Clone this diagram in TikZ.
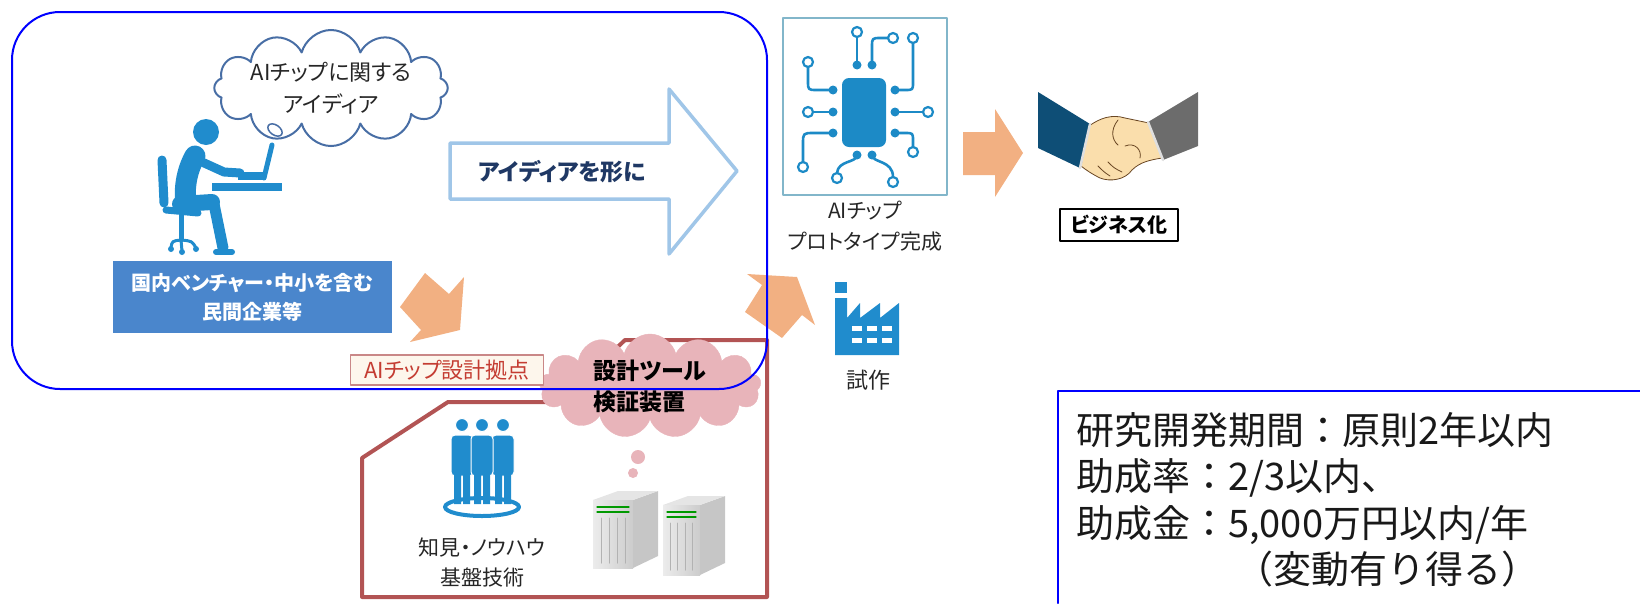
\documentclass[tikz,border=0pt]{standalone}
\usepackage{fontspec}
\usetikzlibrary{shapes.symbols}
\newfontfamily\jp[RawFeature=+palt]{Noto Sans CJK JP}
\newfontfamily\jpw{Noto Sans CJK JP}
\definecolor{frameblue}{RGB}{0,0,255}
\definecolor{iconblue}{RGB}{32,140,205}
\definecolor{cloudline}{RGB}{72,110,165}
\definecolor{labelblue}{RGB}{74,134,204}
\definecolor{hollowblue}{RGB}{160,198,232}
\definecolor{navytext}{RGB}{31,56,100}
\definecolor{arrorange}{RGB}{242,176,130}
\definecolor{basered}{RGB}{178,84,84}
\definecolor{tagred}{RGB}{196,60,50}
\definecolor{tagfill}{RGB}{253,246,236}
\definecolor{pinkcloud}{RGB}{232,180,186}
\definecolor{chipframe}{RGB}{130,182,202}
\definecolor{chipblue}{RGB}{28,138,198}
\definecolor{sleevenavy}{RGB}{14,78,118}
\definecolor{sleevegray}{RGB}{108,108,108}
\definecolor{skin}{RGB}{250,222,172}
\begin{document}
\begin{tikzpicture}[x=1pt, y=-1pt, line join=round, line cap=round,
  lbl/.style n args={2}{font=\jp\fontsize{#1}{#2}\selectfont, text=black!85, align=center, inner sep=0pt},
  orangearrow/.style={fill=arrorange, draw=none}]
\useasboundingbox (0,0) rectangle (1640,603);

% base: red outline, pink cloud and bubbles
\draw[basered, line width=4pt] (362,597) -- (362,458) -- (448,402) -- (560,402) -- (625,340) -- (767,340) -- (767,597) -- cycle;
\node[cloud, cloud puffs=13, cloud ignores aspect, fill=pinkcloud, draw=pinkcloud,
  minimum width=222, minimum height=104, lbl={23}{31}, text=black, font=\jp\bfseries\fontsize{23}{31}\selectfont, align=left] (tools) at (650,386) {設計ツール\\検証装置};
\fill[pinkcloud] (638,457) circle (7) (633,473) circle (5);

% people
\draw[iconblue, line width=4pt] (482,507) ellipse (37 and 9);
\foreach \px in {462,503,482}{
  \fill[iconblue, draw=white, line width=1pt] (\px,425) circle (6.5);
  \fill[iconblue, draw=white, line width=1pt, rounded corners=4pt] (\px-11,435) rectangle (\px+11,476);
  \fill[iconblue] (\px-8,470) rectangle (\px-1,504) (\px+1,470) rectangle (\px+8,504);
}
\node[lbl={21}{30}] (know) at (482,563) {知見・ノウハウ\\基盤技術};

% servers
\foreach \sx/\sy/\sw/\sh in {593/500/40/68, 663/505/37/70}{
  \fill[gray!45] (\sx+\sw,\sy) -- (\sx+\sw+25,\sy-9) -- (\sx+\sw+25,\sy+\sh-12) -- (\sx+\sw,\sy+\sh) -- cycle;
  \fill[gray!20] (\sx,\sy) -- (\sx+\sw,\sy) -- (\sx+\sw+25,\sy-9) -- (\sx+25,\sy-9) -- cycle;
  \shade[left color=gray!15, right color=gray!40] (\sx,\sy) rectangle (\sx+\sw,\sy+\sh);
  \draw[green!60!black, line width=1.2pt] (\sx+4,\sy+7) -- (\sx+\sw-4,\sy+7) (\sx+4,\sy+12) -- (\sx+\sw-4,\sy+12);
  \foreach \k in {1,...,4}
    \draw[gray!60, line width=1pt] (\sx+\k*\sw/5,\sy+18) -- (\sx+\k*\sw/5,\sy+\sh-5);
}

% orange arrows
\fill[orangearrow] (425,273) -- (449,294) -- (464,277) -- (460,330) -- (410,342) -- (421,330) -- (400,307) -- cycle;
\fill[orangearrow] (745,312) -- (762,285) -- (747,274) -- (797,277) -- (815,325) -- (802,315) -- (782,338) -- cycle;
\fill[orangearrow] (963,132) -- (995,132) -- (995,109) -- (1023,153) -- (995,197) -- (995,175) -- (963,175) -- cycle;

\node[draw=basered!70, fill=tagfill, line width=1.5pt, lbl={22}{26}, text=tagred, minimum width=193, minimum height=30] (hub) at (447,370) {AIチップ設計拠点};

% person at the desk
\begin{scope}[iconblue]
  \fill (206,132) circle (13);
  \draw[line width=21pt] (195,156) .. controls (186,172) and (184,190) .. (186,204);
  \draw[line width=9pt] (202,162) -- (224,172) -- (240,173);
  \draw[line width=5pt] (264,178) -- (272,145);
  \fill (238,172) rectangle (266,180);
  \fill (212,183) rectangle (282,191);
  \draw[line width=16pt] (180,204) -- (212,202);
  \draw[line width=11pt] (214,204) -- (223,248);
  \draw[line width=6pt] (216,252) -- (232,252);
  \draw[line width=9pt] (162,160) -- (164,203);
  \draw[line width=7pt] (166,210) -- (198,213);
  \draw[line width=5pt] (181,214) -- (181,240);
  \draw[line width=3pt] (181,240) .. controls (172,241) .. (171,248) (181,240) -- (182,251) (181,240) .. controls (192,241) .. (196,248);
  \fill (171,249) circle (3) (182,252) circle (3) (196,249) circle (3);
\end{scope}

% thought cloud
\node[cloud, cloud puffs=12, cloud ignores aspect, draw=cloudline, line width=2pt, fill=white,
  minimum width=228, minimum height=100, lbl={22}{32}] (idea) at (331,88) {AIチップに関する\\アイディア};
\draw[cloudline, line width=1.5pt, fill=white, rotate around={-35:(275,130)}] (275,130) ellipse (8 and 5);

\node[fill=labelblue, minimum width=279, minimum height=72, lbl={20}{29}, text=white, font=\jp\bfseries\fontsize{20}{29}\selectfont] (firm) at (252.5,297) {国内ベンチャー・中小を含む\\民間企業等};

% hollow arrow
\draw[hollowblue, line width=3.5pt, fill=white] (450,143) -- (669,143) -- (669,89) -- (737,171) -- (669,254) -- (669,199) -- (450,199) -- cycle;
\node[lbl={23}{23}, text=navytext, font=\jp\bfseries\fontsize{23}{23}\selectfont] (shape) at (562,172) {アイディアを形に};

% chip
\draw[chipframe, line width=2pt] (783,18) rectangle (947,195);
\begin{scope}[chipblue, line width=2.6pt]
  \fill[rounded corners=7pt] (842,78) rectangle (886,147);
  \draw (857,65) -- (857,37);
  \draw (872,65) -- (872,47) .. controls (872,38) .. (881,38) -- (888,38);
  \draw (895,90) -- (905,90) .. controls (913,90) .. (913,82) -- (913,43);
  \draw (833,90) -- (817,90) .. controls (808,90) .. (808,81) -- (808,67);
  \draw (833,112) -- (813,112);
  \draw (895,112) -- (923,112);
  \draw (833,133) -- (814,133) .. controls (803,133) .. (803,144) -- (803,162);
  \draw (895,133) -- (905,133) .. controls (913,133) .. (913,141) -- (913,147);
  \draw (857,155) .. controls (857,163) and (838,160) .. (837,173);
  \draw (872,155) .. controls (872,163) and (893,160) .. (893,177);
  \foreach \p in {(833,90),(833,112),(833,133),(895,90),(895,112),(895,133),(857,65),(872,65),(857,155),(872,155)}
    \fill \p circle (4.5);
  \foreach \p in {(857,32),(893,38),(913,38),(808,62),(808,112),(928,112),(803,167),(913,152),(837,178),(893,182)}
    \draw[fill=white, line width=2.2pt] \p circle (5);
\end{scope}
\node[lbl={21}{31}] (proto) at (865,226) {AIチップ\\プロトタイプ完成};

% factory
\begin{scope}[fill=iconblue]
  \fill (835,282) rectangle (847,293);
  \fill (835,298) -- (847,298) -- (847,318) -- (860,303) -- (860,318) -- (880,303) -- (880,318) -- (899,303) -- (899,355) -- (835,355) -- cycle;
  \foreach \wx in {852,867,882}
    \foreach \wy in {326,338}
      \fill[white] (\wx,\wy) rectangle ++(10,5);
\end{scope}
\node[lbl={22}{22}] (trial) at (868,380) {試作};

% handshake
\fill[sleevenavy] (1038,92) -- (1090,124) -- (1080,168) -- (1038,148) -- cycle;
\fill[sleevegray] (1198,92) -- (1198,146) -- (1163,160) -- (1148,122) -- cycle;
\filldraw[fill=skin, draw=brown!55!black, line width=0.8pt] (1089,126) .. controls (1100,118) and (1112,114) .. (1125,118) -- (1149,123) -- (1162,158)
  .. controls (1150,160) and (1140,162) .. (1132,170) .. controls (1125,180) and (1110,182) .. (1100,178)
  .. controls (1092,174) and (1086,170) .. (1081,166) -- cycle;
\draw[brown!55!black, line width=0.8pt] (1118,120) .. controls (1110,130) and (1112,140) .. (1118,145) (1125,146) .. controls (1135,142) and (1142,150) .. (1140,158)
  (1098,166) .. controls (1104,172) .. (1110,176) (1108,162) .. controls (1114,168) .. (1122,172);
\draw[gray!25, line width=2.5pt] (1090,124) -- (1080,168) (1148,122) -- (1163,160);
\node[draw=black, line width=1.5pt, minimum width=118, minimum height=32, lbl={20}{20}, text=black, font=\jp\bfseries\fontsize{20}{20}\selectfont] (biz) at (1119,225) {ビジネス化};

% outer frames
\draw[frameblue, line width=2pt, rounded corners=48pt] (12,12) rectangle (767,389);
\draw[frameblue, line width=2pt] (1058,603) -- (1058,391) -- (1640,391);
\node[anchor=north west, align=left, inner sep=0pt, text=black!90, font=\jpw\fontsize{38}{46.5}\selectfont] (terms) at (1076,412)
  {研究開発期間：原則2年以内\\助成率：2/3以内、\\助成金：5,000万円以内/年\\\hspace*{4.2em}（変動有り得る）};
\end{tikzpicture}
\end{document}
